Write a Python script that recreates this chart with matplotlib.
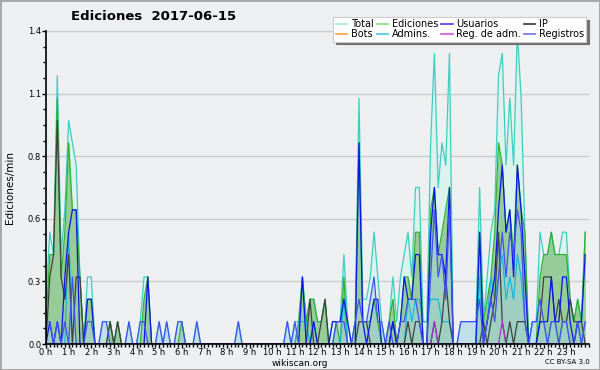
import numpy as np
import matplotlib
matplotlib.use('Agg')
import matplotlib.pyplot as plt
from matplotlib.lines import Line2D

# datos: ediciones por minuto, intervalos de 10 min (6 por hora)
total = [
    0.2, 0.5, 0.4, 1.2, 0.4, 0.6,   # 0 h
    1.0, 0.9, 0.8, 0.3, 0.0, 0.3,   # 1 h
    0.3, 0.0, 0.0, 0.1, 0.1, 0.1,   # 2 h
    0.0, 0.1, 0.0, 0.0, 0.1, 0.0,   # 3 h
    0.0, 0.1, 0.3, 0.3, 0.0, 0.0,   # 4 h
    0.1, 0.0, 0.1, 0.0, 0.0, 0.1,   # 5 h
    0.1, 0.0, 0.0, 0.0, 0.1, 0.0,   # 6 h
    0.0, 0.0, 0.0, 0.0, 0.0, 0.0,   # 7 h
    0.0, 0.0, 0.0, 0.1, 0.0, 0.0,   # 8 h
    0.0, 0.0, 0.0, 0.0, 0.0, 0.0,   # 9 h
    0.0, 0.0, 0.0, 0.0, 0.1, 0.0,   # 10 h
    0.1, 0.1, 0.3, 0.1, 0.2, 0.2,   # 11 h
    0.1, 0.1, 0.2, 0.0, 0.1, 0.1,   # 12 h
    0.1, 0.4, 0.1, 0.0, 0.1, 1.1,   # 13 h
    0.2, 0.2, 0.3, 0.5, 0.3, 0.1,   # 14 h
    0.0, 0.1, 0.3, 0.1, 0.3, 0.4,   # 15 h
    0.5, 0.3, 0.7, 0.7, 0.1, 0.1,   # 16 h
    0.9, 1.3, 0.7, 0.9, 0.8, 1.3,   # 17 h
    0.0, 0.0, 0.1, 0.1, 0.1, 0.1,   # 18 h
    0.1, 0.7, 0.1, 0.3, 0.5, 0.6,   # 19 h
    1.2, 1.3, 0.8, 1.1, 0.8, 1.4,   # 20 h
    1.1, 0.5, 0.0, 0.1, 0.1, 0.5,   # 21 h
    0.4, 0.4, 0.5, 0.4, 0.4, 0.5,   # 22 h
    0.5, 0.2, 0.1, 0.2, 0.1, 0.5,   # 23 h
]
ediciones = [
    0.1, 0.4, 0.4, 1.1, 0.3, 0.5,
    0.9, 0.6, 0.6, 0.3, 0.0, 0.2,
    0.2, 0.0, 0.0, 0.0, 0.0, 0.1,
    0.0, 0.1, 0.0, 0.0, 0.0, 0.0,
    0.0, 0.0, 0.2, 0.3, 0.0, 0.0,
    0.0, 0.0, 0.0, 0.0, 0.0, 0.0,
    0.1, 0.0, 0.0, 0.0, 0.0, 0.0,
    0.0, 0.0, 0.0, 0.0, 0.0, 0.0,
    0.0, 0.0, 0.0, 0.0, 0.0, 0.0,
    0.0, 0.0, 0.0, 0.0, 0.0, 0.0,
    0.0, 0.0, 0.0, 0.0, 0.0, 0.0,
    0.0, 0.1, 0.3, 0.1, 0.2, 0.2,
    0.1, 0.1, 0.2, 0.0, 0.0, 0.1,
    0.0, 0.3, 0.0, 0.0, 0.1, 0.9,
    0.1, 0.1, 0.1, 0.2, 0.1, 0.0,
    0.0, 0.1, 0.2, 0.0, 0.1, 0.3,
    0.3, 0.2, 0.5, 0.5, 0.0, 0.0,
    0.6, 0.7, 0.4, 0.5, 0.6, 0.7,
    0.0, 0.0, 0.0, 0.0, 0.0, 0.0,
    0.0, 0.5, 0.1, 0.2, 0.3, 0.5,
    0.9, 0.8, 0.5, 0.6, 0.4, 0.8,
    0.6, 0.5, 0.0, 0.0, 0.0, 0.3,
    0.4, 0.4, 0.5, 0.4, 0.4, 0.4,
    0.4, 0.2, 0.1, 0.2, 0.1, 0.5,
]
usuarios = [
    0.0, 0.1, 0.0, 0.1, 0.0, 0.3,
    0.5, 0.6, 0.6, 0.0, 0.0, 0.2,
    0.2, 0.0, 0.0, 0.0, 0.0, 0.0,
    0.0, 0.0, 0.0, 0.0, 0.0, 0.0,
    0.0, 0.0, 0.0, 0.3, 0.0, 0.0,
    0.0, 0.0, 0.0, 0.0, 0.0, 0.0,
    0.0, 0.0, 0.0, 0.0, 0.0, 0.0,
    0.0, 0.0, 0.0, 0.0, 0.0, 0.0,
    0.0, 0.0, 0.0, 0.0, 0.0, 0.0,
    0.0, 0.0, 0.0, 0.0, 0.0, 0.0,
    0.0, 0.0, 0.0, 0.0, 0.0, 0.0,
    0.0, 0.0, 0.3, 0.0, 0.0, 0.1,
    0.0, 0.0, 0.0, 0.0, 0.1, 0.1,
    0.1, 0.2, 0.1, 0.0, 0.0, 0.9,
    0.1, 0.0, 0.1, 0.2, 0.2, 0.0,
    0.0, 0.0, 0.1, 0.0, 0.1, 0.3,
    0.2, 0.2, 0.4, 0.4, 0.0, 0.0,
    0.5, 0.7, 0.4, 0.4, 0.3, 0.7,
    0.0, 0.0, 0.0, 0.0, 0.0, 0.0,
    0.0, 0.5, 0.0, 0.1, 0.2, 0.3,
    0.6, 0.8, 0.5, 0.6, 0.3, 0.8,
    0.6, 0.3, 0.0, 0.0, 0.0, 0.1,
    0.1, 0.1, 0.3, 0.1, 0.1, 0.3,
    0.3, 0.1, 0.0, 0.1, 0.1, 0.4,
]
ip = [
    0.0, 0.3, 0.4, 1.0, 0.3, 0.2,
    0.4, 0.0, 0.3, 0.3, 0.0, 0.0,
    0.0, 0.0, 0.0, 0.0, 0.0, 0.1,
    0.0, 0.1, 0.0, 0.0, 0.0, 0.0,
    0.0, 0.0, 0.0, 0.0, 0.0, 0.0,
    0.0, 0.0, 0.0, 0.0, 0.0, 0.0,
    0.0, 0.0, 0.0, 0.0, 0.0, 0.0,
    0.0, 0.0, 0.0, 0.0, 0.0, 0.0,
    0.0, 0.0, 0.0, 0.0, 0.0, 0.0,
    0.0, 0.0, 0.0, 0.0, 0.0, 0.0,
    0.0, 0.0, 0.0, 0.0, 0.0, 0.0,
    0.0, 0.0, 0.0, 0.0, 0.2, 0.0,
    0.0, 0.1, 0.2, 0.0, 0.0, 0.0,
    0.0, 0.0, 0.0, 0.0, 0.0, 0.1,
    0.1, 0.1, 0.0, 0.0, 0.0, 0.0,
    0.0, 0.0, 0.1, 0.0, 0.0, 0.0,
    0.1, 0.0, 0.1, 0.1, 0.0, 0.0,
    0.0, 0.1, 0.0, 0.1, 0.3, 0.1,
    0.0, 0.0, 0.0, 0.0, 0.0, 0.0,
    0.0, 0.0, 0.1, 0.0, 0.1, 0.2,
    0.5, 0.1, 0.0, 0.1, 0.0, 0.1,
    0.1, 0.1, 0.0, 0.0, 0.0, 0.1,
    0.3, 0.3, 0.3, 0.1, 0.2, 0.1,
    0.1, 0.2, 0.1, 0.1, 0.1, 0.0,
]
admins = [
    0.0, 0.0, 0.0, 0.0, 0.0, 0.0,
    0.5, 0.0, 0.0, 0.0, 0.0, 0.0,
    0.0, 0.0, 0.0, 0.0, 0.0, 0.0,
    0.0, 0.0, 0.0, 0.0, 0.0, 0.0,
    0.0, 0.0, 0.0, 0.0, 0.0, 0.0,
    0.0, 0.0, 0.0, 0.0, 0.0, 0.0,
    0.0, 0.0, 0.0, 0.0, 0.0, 0.0,
    0.0, 0.0, 0.0, 0.0, 0.0, 0.0,
    0.0, 0.0, 0.0, 0.0, 0.0, 0.0,
    0.0, 0.0, 0.0, 0.0, 0.0, 0.0,
    0.0, 0.0, 0.0, 0.0, 0.0, 0.0,
    0.0, 0.1, 0.1, 0.1, 0.0, 0.1,
    0.0, 0.0, 0.0, 0.0, 0.0, 0.0,
    0.0, 0.2, 0.0, 0.0, 0.0, 0.0,
    0.0, 0.0, 0.0, 0.0, 0.0, 0.0,
    0.0, 0.0, 0.0, 0.0, 0.0, 0.0,
    0.2, 0.1, 0.2, 0.2, 0.1, 0.1,
    0.2, 0.2, 0.2, 0.1, 0.1, 0.1,
    0.0, 0.0, 0.0, 0.0, 0.0, 0.0,
    0.0, 0.3, 0.0, 0.1, 0.3, 0.2,
    0.3, 0.4, 0.2, 0.3, 0.2, 0.4,
    0.3, 0.1, 0.0, 0.1, 0.1, 0.1,
    0.1, 0.0, 0.1, 0.1, 0.0, 0.1,
    0.1, 0.0, 0.0, 0.1, 0.0, 0.1,
]
reg_adm = [0.0] * 144
reg_adm[103] = 0.1
reg_adm[121] = 0.1
bots = [0.0] * 144
registros = [
    0.1, 0.1, 0.0, 0.1, 0.0, 0.1,
    0.0, 0.3, 0.0, 0.0, 0.0, 0.1,
    0.1, 0.0, 0.0, 0.1, 0.1, 0.0,
    0.0, 0.0, 0.0, 0.0, 0.1, 0.0,
    0.0, 0.1, 0.1, 0.0, 0.0, 0.0,
    0.1, 0.0, 0.1, 0.0, 0.0, 0.1,
    0.1, 0.0, 0.0, 0.0, 0.1, 0.0,
    0.0, 0.0, 0.0, 0.0, 0.0, 0.0,
    0.0, 0.0, 0.0, 0.1, 0.0, 0.0,
    0.0, 0.0, 0.0, 0.0, 0.0, 0.0,
    0.0, 0.0, 0.0, 0.0, 0.1, 0.0,
    0.1, 0.0, 0.0, 0.0, 0.0, 0.0,
    0.0, 0.0, 0.0, 0.0, 0.0, 0.1,
    0.1, 0.1, 0.0, 0.0, 0.1, 0.2,
    0.1, 0.1, 0.2, 0.3, 0.1, 0.1,
    0.0, 0.1, 0.0, 0.0, 0.1, 0.1,
    0.2, 0.2, 0.2, 0.1, 0.0, 0.0,
    0.3, 0.6, 0.3, 0.4, 0.2, 0.6,
    0.0, 0.0, 0.1, 0.1, 0.1, 0.1,
    0.1, 0.2, 0.0, 0.1, 0.2, 0.1,
    0.3, 0.5, 0.3, 0.5, 0.4, 0.6,
    0.5, 0.1, 0.0, 0.1, 0.1, 0.2,
    0.1, 0.0, 0.1, 0.1, 0.0, 0.1,
    0.1, 0.0, 0.0, 0.1, 0.0, 0.1,
]
horas = ['%d h' % h for h in range(24)]

bg = '#eeeff1'
fig = plt.figure(figsize=(6, 3.7), dpi=100, facecolor=bg, edgecolor='#a8a8a8', linewidth=2)
ax = fig.add_axes([46/600, 26/370, 543/600, 313/370], facecolor=bg)

x = np.arange(144) / 6.0

# rellenos
ax.fill_between(x, total, color='#dcf2ec', lw=0, zorder=1)
ax.fill_between(x, ediciones, color='#8fc88f', lw=0, alpha=0.9, zorder=2)
ax.fill_between(x, registros, color='#a8d2e2', lw=0, alpha=0.55, zorder=3)

# lineas
ax.plot(x, total, color='#3ccfc0', lw=0.9, zorder=4)
ax.plot(x, ediciones, color='#2fb02f', lw=0.9, zorder=5)
ax.plot(x, admins, color='#1ab8d8', lw=0.9, zorder=6)
ax.plot(x, ip, color='#404040', lw=0.9, zorder=7)
ax.plot(x, usuarios, color='#0a14f0', lw=0.9, zorder=8)
ax.plot(x, registros, color='#4450f0', lw=0.9, zorder=9)
ax.plot(x, reg_adm, color='#b030d8', lw=0.9, zorder=10)

ax.set_xlim(0, 24)
ax.set_ylim(0, 1.4)
yt = np.linspace(0, 1.4, 6)
ax.set_yticks(yt)
ax.set_yticklabels(['%.1f' % v for v in yt])
ax.set_yticks(np.linspace(0, 1.4, 21), minor=True)
ax.set_xticks(np.arange(24))
ax.set_xticklabels(horas)
ax.set_xticks(np.arange(145) / 6.0, minor=True)
ax.grid(axis='y', color='#cccccc', lw=1, zorder=0)
ax.set_axisbelow(True)

for s in ['top', 'right']:
    ax.spines[s].set_visible(False)
for s in ['left', 'bottom']:
    ax.spines[s].set_linewidth(1.2)
    ax.spines[s].set_zorder(20)
ax.tick_params(axis='both', which='major', length=3, width=1, pad=0.5, direction='out')
ax.tick_params(axis='both', which='minor', length=2, width=1, direction='out')
ax.tick_params(axis='x', labelsize=6, pad=0)
ax.tick_params(axis='y', labelsize=6)

fig.text(10/600, 1 - 188/370, 'Ediciones/min', rotation=90, ha='center', va='center', fontsize=7.5)
fig.text(154/600, 1 - 16/370, 'Ediciones  2017-06-15', ha='center', va='center', fontsize=9.5, fontweight='bold')
fig.text(300/600, 1 - 363/370, 'wikiscan.org', ha='center', va='center', fontsize=6.5)
fig.text(590/600, 1 - 362/370, 'CC BY-SA 3.0', ha='right', va='center', fontsize=5)

# leyenda
etiquetas = ['Total', 'Bots', 'Ediciones', 'Admins.', 'Usuarios', 'Reg. de adm.', 'IP', 'Registros']
colores = ['#a8e8de', '#f4a040', '#88d888', '#44c8e0', '#4040e0', '#d050e0', '#333333', '#7070f0']
handles = [Line2D([], [], color=c, lw=1.2) for c in colores]
leg = fig.legend(handles, etiquetas, ncol=4, loc='upper right', bbox_to_anchor=(591/600, 1 - 12/370),
                 fontsize=7, handlelength=1.2, handletextpad=0.35, columnspacing=0.3,
                 labelspacing=0.0, borderpad=0.25, fancybox=False, framealpha=1,
                 edgecolor='#cccccc', shadow={'color': '#707070', 'alpha': 1})
leg.get_frame().set_linewidth(0.8)

fig.savefig('out.png', dpi=100, facecolor=bg, edgecolor='#a8a8a8')
